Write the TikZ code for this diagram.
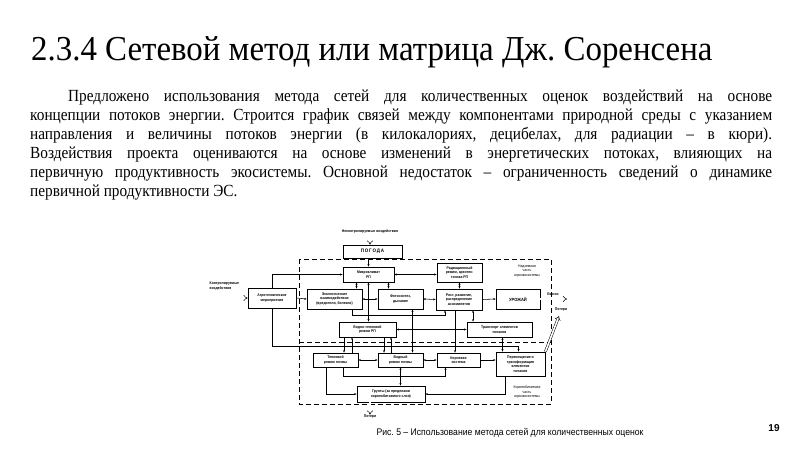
\documentclass[tikz,border=0pt]{standalone}
\usepackage{fontspec}
\setmainfont{Liberation Serif}
\newfontfamily\titlefont{Liberation Serif}[FakeStretch=0.94]
\newfontfamily\parafont{Liberation Serif}[FakeStretch=0.9]
\newfontfamily\capfont{Liberation Sans}[FakeStretch=0.9]
\newfontfamily\nomerfont{Liberation Sans}
\newfontfamily\blokfont{Liberation Sans}[FakeStretch=0.9]
\usetikzlibrary{arrows.meta}

\tikzset{
  blok/.style={draw, line width=0.8pt, fill=white, align=center, inner sep=0.5pt,
    font=\blokfont\bfseries\fontsize{3.8}{4.5}\selectfont},
  metka/.style={align=center, inner sep=0.5pt, font=\blokfont\bfseries\fontsize{3.8}{4.5}\selectfont},
  arr/.style={line width=0.55pt, -{Stealth[length=2.4pt,width=2pt]}},
  arr2/.style={line width=0.55pt, {Stealth[length=2.4pt,width=2pt]}-{Stealth[length=2.4pt,width=2pt]}},
  potok/.style={double, double distance=1.6pt, line width=0.5pt, -{Implies}},
  ramka/.style={dashed, dash pattern=on 5pt off 3pt, line width=0.8pt}
}

\begin{document}
\frenchspacing
\begin{tikzpicture}[x=1pt,y=-1pt]
\useasboundingbox (0,0) rectangle (800,450);
\fill[white] (0,0) rectangle (800,450);

% texts of the slide
\node[anchor=base west, inner sep=0, font=\titlefont\fontsize{35}{38}\selectfont] (title) at (31,60)
  {2.3.4 Сетевой метод или матрица Дж. Соренсена};
\node[anchor=north west, inner sep=0, text width=742pt, align=justify,
  font=\parafont\fontsize{17}{19}\selectfont] (para) at (30,90)
  {\hspace*{38pt}Предложено использования метода сетей для количественных оценок воздействий на основе\linebreak
  концепции потоков энергии. Строится график связей между компонентами природной среды с указанием\linebreak
  направления и величины потоков энергии (в килокалориях, децибелах, для радиации – в кюри).\linebreak
  Воздействия проекта оцениваются на основе изменений в энергетических потоках, влияющих на\linebreak
  первичную продуктивность экосистемы. Основной недостаток – ограниченность сведений о динамике\linebreak
  первичной продуктивности ЭС.};
\node[anchor=base, inner sep=0, font=\capfont\fontsize{9.6}{11}\selectfont] (podpis) at (510,435)
  {Рис. 5 – Использование метода сетей для количественных оценок};
\node[anchor=base, inner sep=0, font=\nomerfont\bfseries\fontsize{10}{12}\selectfont] (nomer) at (774,431) {19};

% dashed parts of the agroecosystem
\draw[ramka] (299,259) rectangle (551,404);
\draw[ramka] (299,342) -- (551,342);

% blocks
\node[blok, minimum width=59pt, minimum height=13pt, font=\blokfont\bfseries\fontsize{5}{6}\selectfont] (pogoda) at (372.5,251.5) {П\,О\,Г\,О\,Д\,А};
\node[blok, minimum width=51pt, minimum height=15pt] (micro) at (368.5,274.5) {Микроклимат\\РП};
\node[blok, minimum width=45pt, minimum height=19pt] (rad) at (459.5,272.5) {Радиационный\\режим, архитек-\\тоника РП};
\node[blok, minimum width=48pt, minimum height=20pt] (agro) at (272,298) {Агротехнические\\мероприятия};
\node[blok, minimum width=55pt, minimum height=20pt] (ecol) at (334.5,299) {Экологические\\взаимодействия\\(вредители, болезни)};
\node[blok, minimum width=45pt, minimum height=20pt] (photo) at (400.5,299) {Фотосинтез,\\дыхание};
\node[blok, minimum width=46pt, minimum height=21pt] (rost) at (459,299.5) {Рост, развитие,\\распределение\\ассимилятов};
\node[blok, minimum width=44pt, minimum height=20pt, font=\blokfont\bfseries\fontsize{4.5}{5}\selectfont] (urozh) at (518,299) {УРОЖАЙ};
\node[blok, minimum width=57pt, minimum height=15pt] (vodtep) at (367.5,329.5) {Водно-тепловой\\режим РП};
\node[blok, minimum width=65pt, minimum height=15pt] (transp) at (499.5,329.5) {Транспорт элементов\\питания};
\node[blok, minimum width=45pt, minimum height=14pt] (teplo) at (335.5,360) {Тепловой\\режим почвы};
\node[blok, minimum width=45pt, minimum height=14pt] (vodn) at (400.5,360) {Водный\\режим почвы};
\node[blok, minimum width=43pt, minimum height=14pt] (koren) at (458.5,360) {Корневая\\система};
\node[blok, minimum width=49pt, minimum height=24pt] (perem) at (520.5,364) {Перемещение и\\трансформация\\элементов\\питания};
\node[blok, minimum width=68pt, minimum height=16pt] (grunt) at (391,394) {Грунты (за пределами\\корнеобитаемого слоя)};

% labels
\node[metka] (nekontr) at (370,231) {Неконтролируемые воздействия};
\node[metka, align=left, anchor=west] (kontr) at (209,286) {Контролируемые\\воздействия};
\node[metka, font=\blokfont\fontsize{3.8}{4.5}\selectfont] (nadz) at (527,271) {Надземная\\часть\\агроэкосистемы};
\node[metka] (vynos) at (553,294) {Вынос};
\node[metka] (poteri1) at (561,310) {Потери};
\node[metka, font=\blokfont\fontsize{3.8}{4.5}\selectfont] (korn) at (527,392) {Корнеобитаемая\\часть\\агроэкосистемы};
\node[metka] (poteri2) at (370,417) {Потери};

% flows in and out
\coordinate (vyh) at (567,299);
\coordinate (uhod) at (559,316);
\draw[potok] (nekontr) -- (nekontr |- pogoda.north);
\draw[potok] (kontr.west |- agro) -- (agro.west);
\draw[potok] (urozh.east) -- (vyh);
\draw[potok] (perem.north east) -- (uhod);
\draw[potok] (grunt.south -| poteri2) -- (poteri2.north);

% links
\coordinate (shina) at (272,346);
\draw[arr] (pogoda.south -| micro) -- (micro.north);
\draw[arr] (agro.north) |- (micro.west);
\draw[arr] (agro.east) -- (ecol.west);
\draw[arr] (agro.south) -- (shina) -| ([xshift=-2pt]perem.north);
\draw[arr2] (micro.east) -- (micro.east -| rad.west);
\draw[arr2] ([xshift=-12pt]micro.south) -- ([xshift=-12pt]micro.south |- ecol.north);
\draw[arr2] ([xshift=20pt]micro.south) -- ([xshift=20pt]micro.south |- photo.north);
\draw[arr2] (micro.south) -- (micro.south |- vodtep.north);
\draw[arr2] (ecol.east) -- (photo.west);
\draw[arr2] (photo.east) -- (rost.west);
\draw[arr] (rost.east) -- (urozh.west);
\draw[arr2] (rad.south) -- (rad.south |- rost.north);
\draw[arr2] ([xshift=14pt]rost.south) -- ([xshift=14pt]rost.south |- transp.north);
\draw[arr] ([xshift=-4pt]rost.south) -- ([xshift=-4pt]rost.south |- koren.north);
\draw[arr2] ([xshift=12pt]photo.south) -- ([xshift=12pt]photo.south |- vodn.north);
\draw[arr2] (vodtep.east) -- (transp.west);
\draw[arr] ([xshift=18pt]ecol.south) -- ++(0,6) -| ([xshift=-14pt]rost.south);
\draw[arr] ([xshift=-23.5pt]vodtep.south) -- ([xshift=-23.5pt]vodtep.south |- teplo.north);
\draw[arr] ([xshift=-15.5pt]vodtep.south |- teplo.north) -- ([xshift=-15.5pt]vodtep.south);
\draw[arr] ([xshift=16.5pt]vodtep.south) -- ([xshift=16.5pt]vodtep.south |- vodn.north);
\draw[arr] ([xshift=23.5pt]vodtep.south |- vodn.north) -- ([xshift=23.5pt]vodtep.south);
\draw[arr2] (teplo.east) -- (vodn.west);
\draw[arr2] (vodn.east) -- (koren.west);
\draw[arr] (koren.east) -- (koren.east -| perem.west);
\draw[arr2] ([xshift=3pt]transp.south) -- ([xshift=3pt]transp.south |- perem.north);
\draw[arr] ([xshift=-9pt]teplo.south) |- (grunt.west);
\draw[arr] ([xshift=-15pt]perem.south) |- (grunt.east);
\draw[arr2] (vodn.south) -- (vodn.south |- grunt.north);
\draw[arr] ([xshift=8pt]teplo.south) -- ++(0,9) -| ([xshift=-13pt]koren.south);
\end{tikzpicture}
\end{document}
